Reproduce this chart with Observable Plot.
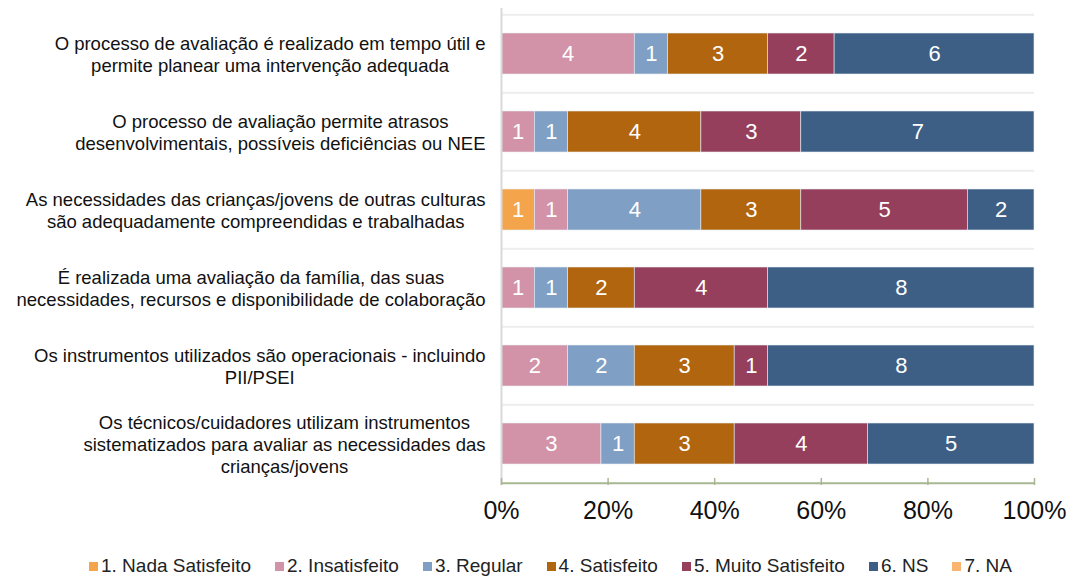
<!DOCTYPE html>
<html><head><meta charset="utf-8">
<script src="https://cdn.jsdelivr.net/npm/d3@7"></script>
<script src="https://cdn.jsdelivr.net/npm/@observablehq/plot@0.6"></script>
<style>
body{margin:0;background:#fff;font-family:"Liberation Sans",Arial,sans-serif;}
#chart svg{display:block;}
#legend{display:flex;justify-content:center;align-items:center;gap:24px;font-size:19px;color:#222;margin-top:10px;padding-left:28px;}
#legend .item{display:flex;align-items:center;white-space:nowrap;}
#legend .sw{width:9px;height:9px;margin-right:3px;}
</style></head><body>
<div id="chart"></div><div id="legend"></div>
<script>
const questions = [
  "O processo de avaliação é realizado em tempo útil e\npermite planear uma intervenção adequada",
  "O processo de avaliação permite atrasos\ndesenvolvimentais, possíveis deficiências ou NEE",
  "As necessidades das crianças/jovens de outras culturas\nsão adequadamente compreendidas e trabalhadas",
  "É realizada uma avaliação da família, das suas\nnecessidades, recursos e disponibilidade de colaboração",
  "Os instrumentos utilizados são operacionais - incluindo\nPII/PSEI",
  "Os técnicos/cuidadores utilizam instrumentos\nsistematizados para avaliar as necessidades das\ncrianças/jovens"
];
const categories = ["1. Nada Satisfeito","2. Insatisfeito","3. Regular","4. Satisfeito","5. Muito Satisfeito","6. NS","7. NA"];
const colors = ["#F4A44A","#D293A8","#7F9FC4","#B1650E","#953F5C","#3E5F85","#F9B56F"];
const nadaSatisfeito  = [0,0,1,0,0,0];
const insatisfeito    = [4,1,1,1,2,3];
const regular         = [1,1,4,1,2,1];
const satisfeito      = [3,4,3,2,3,3];
const muitoSatisfeito = [2,3,5,4,1,4];
const ns              = [6,7,2,8,8,5];
const na              = [0,0,0,0,0,0];
const xTicks = [0,0.2,0.4,0.6,0.8,1];
const tickLabels = ["0%","20%","40%","60%","80%","100%"];

const series = [nadaSatisfeito,insatisfeito,regular,satisfeito,muitoSatisfeito,ns,na];
const rows = [];
questions.forEach((q,i)=>categories.forEach((c,j)=>{
  if (series[j][i] > 0) rows.push({q, cat:c, value:series[j][i]});
}));

const W=1073, H=545, mL=501, mR=39, mT=13, mB=60;
const step = (H-mT-mB)/questions.length;
const labelFont = 18.5;
const ctx = document.createElement("canvas").getContext("2d");
ctx.font = `${labelFont}px "Liberation Sans"`;
const maxW = q => Math.max(...q.split("\n").map(s=>ctx.measureText(s).width));

const green = "#A6B791";
const chart = Plot.plot({
  width: W, height: H, marginLeft: mL, marginRight: mR, marginTop: mT, marginBottom: mB,
  style: {fontFamily: '"Liberation Sans", Arial, sans-serif', background: "white"},
  x: {domain:[0,1], axis:null},
  y: {domain: questions, axis:null, paddingInner:0.47, paddingOuter:0.235},
  color: {domain: categories, range: colors},
  marks: [
    Plot.ruleY(questions, {y: d=>d, dy: -step/2, stroke:"#EDEDED", strokeWidth:2}),
    Plot.barX(rows, Plot.stackX({x:"value", y:"q", z:"cat", fill:"cat", offset:"normalize", stroke:"#e8edf3", strokeWidth:0.6})),
    Plot.text(rows, Plot.stackX({x:"value", y:"q", z:"cat", text:"value", offset:"normalize", fill:"white", fontSize:22})),
    Plot.ruleX([0], {stroke:"#D9D9D9", strokeWidth:2, insetTop:-5}),
    Plot.ruleY([questions[questions.length-1]], {y:d=>d, dy: step/2, stroke: green, strokeWidth:2}),
    Plot.ruleX(xTicks, {stroke: green, strokeWidth:1.5, insetTop: (H-mT-mB)-7}),
    Plot.text(xTicks, {x:d=>d, text:(d,i)=>tickLabels[i], frameAnchor:"bottom", dy:33, fontSize:25, fill:"#111"}),
    ...questions.map(q => Plot.text([q], {y:d=>d, text:d=>d, frameAnchor:"left", textAnchor:"middle",
      dx: -(16 + maxW(q)/2), fontSize: labelFont, lineHeight: 1.19, fill:"#111"}))
  ]
});
document.getElementById("chart").appendChild(chart);

const legend = document.getElementById("legend");
categories.forEach((c,j)=>{
  const it = document.createElement("div"); it.className="item";
  const sw = document.createElement("span"); sw.className="sw"; sw.style.background=colors[j];
  const t = document.createElement("span"); t.textContent=c;
  it.appendChild(sw); it.appendChild(t); legend.appendChild(it);
});
</script>
</body></html>
